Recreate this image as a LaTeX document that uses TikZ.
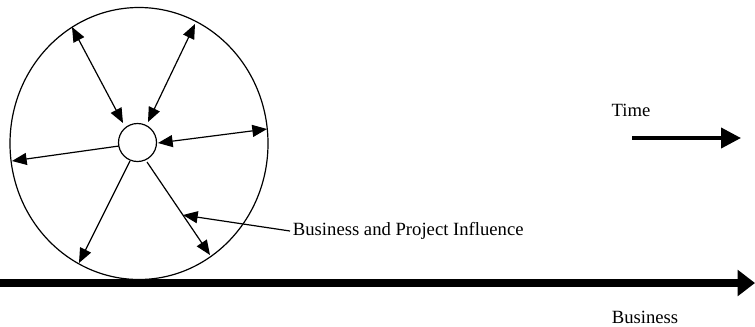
\documentclass[tikz,border=0pt]{standalone}
\usepackage{fontspec}
\setmainfont{Liberation Serif}
\usetikzlibrary{arrows.meta,shapes.geometric}

\begin{document}
\begin{tikzpicture}[x=0.75pt,y=-0.75pt,
    spoke/.style={line width=0.9pt, -{Triangle[length=11pt,width=9pt]}},
    twospoke/.style={line width=0.9pt, {Triangle[length=11pt,width=9pt]}-{Triangle[length=11pt,width=9pt]}},
    bigarrow/.style={line width=6pt, -{Triangle[length=13pt,width=19pt]}},
    timearrow/.style={line width=3pt, -{Triangle[length=15pt,width=15pt]}},
    lbl/.style={font=\fontsize{14}{16}\selectfont, inner sep=2pt}]

\useasboundingbox (0,0) rectangle (755,326);

% wheel and hub
\node [draw, line width=0.9pt, ellipse, minimum width=193.5pt, minimum height=204pt, inner sep=0pt] (wheel) at (139,143.5) {};
\node [draw, line width=0.9pt, circle, minimum size=28.5pt, inner sep=0pt] (hub) at (137.5,142.5) {};

% spoke ends
\coordinate (rimUL) at (72,27);
\coordinate (rimUR) at (195,24);
\coordinate (rimR) at (267,129);
\coordinate (rimL) at (12,161);
\coordinate (rimLL) at (79,263);
\coordinate (rimLR) at (210,255);
\coordinate (inUL) at (123,123);
\coordinate (inUR) at (148,122);
\coordinate (inR) at (158,143);
\coordinate (inL) at (119,146);
\coordinate (inLL) at (130,161);
\coordinate (inLR) at (147,162);

\draw [twospoke] (rimUL) -- (inUL);
\draw [twospoke] (rimUR) -- (inUR);
\draw [twospoke] (inR) -- (rimR);
\draw [spoke] (inL) -- (rimL);
\draw [spoke] (inLL) -- (rimLL);
\draw [spoke] (inLR) -- (rimLR);

% label
\node [lbl, anchor=west] (influence) at (290,231) {Business and Project Influence};
\coordinate (influenceTip) at (183,215);
\draw [spoke] (influence.west) -- (influenceTip);

% time
\node [lbl] (time) at (631,110) {Time};
\coordinate (timeStart) at (632,138);
\coordinate (timeEnd) at (741,138);
\draw [timearrow] (timeStart) -- (timeEnd);

% business axis
\coordinate (axisStart) at (0,283);
\coordinate (axisEnd) at (755,283);
\draw [bigarrow] (axisStart) -- (axisEnd);
\node [lbl] (business) at (645,317) {Business};

\end{tikzpicture}
\end{document}
